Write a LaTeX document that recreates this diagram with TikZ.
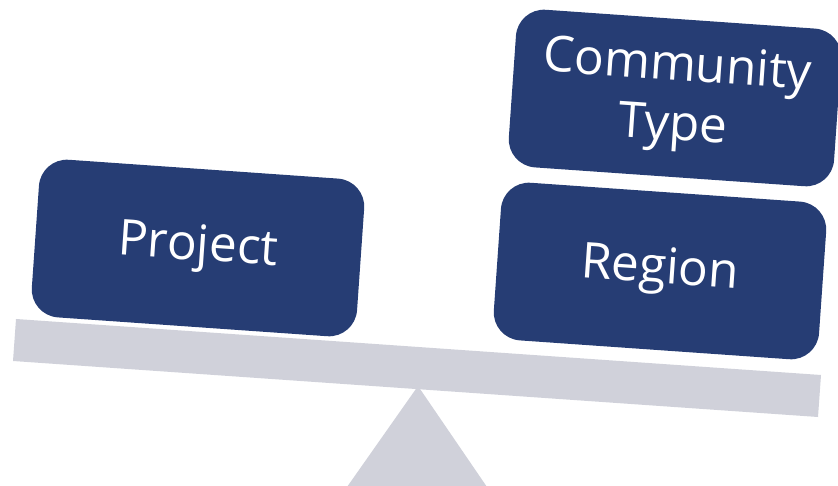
\documentclass[tikz,border=0pt]{standalone}
\usepackage{fontspec}
\setmainfont{Open Sans}
\definecolor{boxblue}{RGB}{38,61,116}
\definecolor{beamgray}{RGB}{208,209,218}
\begin{document}
\begin{tikzpicture}[x=1pt,y=-1pt,
  weight/.style={fill=boxblue, draw=none, rounded corners=28pt, rotate=-4,
    minimum width=326pt, minimum height=158pt, text=white, align=center,
    inner sep=0pt, font=\fontsize{49.5}{60}\selectfont}]
\useasboundingbox (0,0) rectangle (838,486);
% fulcrum
\fill[beamgray] (418,386) -- (487,487) -- (347,487) -- cycle;
% beam
\fill[beamgray] (16,319) -- (821,375) -- (818,417) -- (13,361) -- cycle;
% weights
\node[weight] (project) at (198,248) {Project};
\node[weight] (region) at (660,271) {Region};
\node[weight] (community) at (675,98) {Community\\Type};
\end{tikzpicture}
\end{document}
